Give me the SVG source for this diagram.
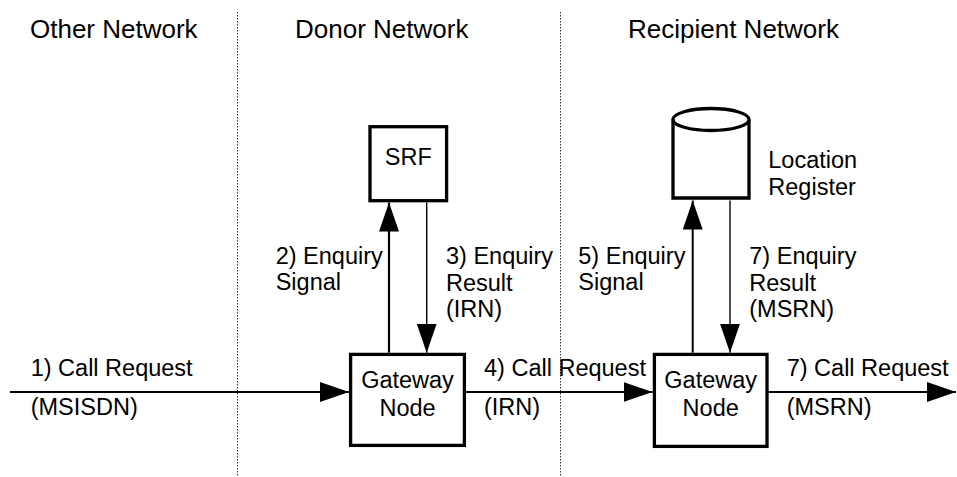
<svg xmlns="http://www.w3.org/2000/svg" width="957" height="477" viewBox="0 0 957 477">
<defs>
<marker id="ah" markerUnits="userSpaceOnUse" markerWidth="30" markerHeight="20" refX="29" refY="10" orient="auto" viewBox="0 0 30 20">
<path d="M0,0 L29,10 L0,20 Z" fill="#000"/>
</marker>
</defs>
<style>
text{font-family:"Liberation Sans",Arial,sans-serif;fill:#000}
.hdr{font-size:26px}
.lbl{font-size:23.5px}
.mid{text-anchor:middle}
.box{fill:#fff;stroke:#000;stroke-width:3.3}
.sep{stroke:#333;stroke-width:1;stroke-dasharray:1.5,1.5;fill:none}
.ln{stroke:#000;fill:none}
</style>
<rect width="957" height="477" fill="#fff"/>
<g id="separators">
<line class="sep" x1="237.5" y1="12" x2="237.5" y2="477"/>
<line class="sep" x1="560.5" y1="12" x2="560.5" y2="477"/>
</g>
<g id="headers">
<text class="hdr" x="30" y="38">Other Network</text>
<text class="hdr" x="295" y="37.5">Donor Network</text>
<text class="hdr" x="628" y="38">Recipient Network</text>
</g>
<g id="connectors">
<line class="ln" x1="10" y1="392" x2="349" y2="392" stroke-width="2" marker-end="url(#ah)"/>
<line class="ln" x1="466" y1="392" x2="652.5" y2="392" stroke-width="2" marker-end="url(#ah)"/>
<line class="ln" x1="768.5" y1="392" x2="956" y2="392" stroke-width="2" marker-end="url(#ah)"/>
<line class="ln" x1="389" y1="352.7" x2="389" y2="202.5" stroke-width="2.2" marker-end="url(#ah)"/>
<line class="ln" x1="426.7" y1="202.5" x2="426.7" y2="352.7" stroke-width="1.4" marker-end="url(#ah)"/>
<line class="ln" x1="692.7" y1="352.7" x2="692.7" y2="200.5" stroke-width="2" marker-end="url(#ah)"/>
<line class="ln" x1="730" y1="200.5" x2="730" y2="352.7" stroke-width="1.4" marker-end="url(#ah)"/>
<text class="lbl" x="30.7" y="376">1) Call Request</text>
<text class="lbl" x="30.7" y="415">(MSISDN)</text>
<text class="lbl" x="484" y="376">4) Call Request</text>
<text class="lbl" x="484" y="415">(IRN)</text>
<text class="lbl" x="786.7" y="376">7) Call Request</text>
<text class="lbl" x="786.7" y="415">(MSRN)</text>
<text class="lbl" x="275.7" y="263.5">2) Enquiry</text>
<text class="lbl" x="275.7" y="290">Signal</text>
<text class="lbl" x="446" y="263.5">3) Enquiry</text>
<text class="lbl" x="446" y="290.5">Result</text>
<text class="lbl" x="446" y="317">(IRN)</text>
<text class="lbl" x="578.3" y="263.5">5) Enquiry</text>
<text class="lbl" x="578.3" y="290">Signal</text>
<text class="lbl" x="749.3" y="263.5">7) Enquiry</text>
<text class="lbl" x="749.3" y="290.5">Result</text>
<text class="lbl" x="749.3" y="317">(MSRN)</text>
</g>
<g id="srf">
<rect class="box" x="370" y="126.7" width="76.6" height="74"/>
<text class="lbl mid" x="408.3" y="165">SRF</text>
</g>
<g id="location-register">
<path class="box" d="M673,119.5 L673,198 L749,198 L749,119.5"/>
<ellipse class="box" cx="711" cy="119.5" rx="38" ry="11"/>
<text class="lbl" x="768.3" y="168.3">Location</text>
<text class="lbl" x="768.3" y="194.5">Register</text>
</g>
<g id="gateway-donor">
<rect class="box" x="350.6" y="354.4" width="113.8" height="91"/>
<text class="lbl mid" x="407.5" y="388.3">Gateway</text>
<text class="lbl mid" x="407.5" y="416">Node</text>
</g>
<g id="gateway-recipient">
<rect class="box" x="654.4" y="354.4" width="112.6" height="92"/>
<text class="lbl mid" x="710.7" y="388.3">Gateway</text>
<text class="lbl mid" x="710.7" y="416">Node</text>
</g>
</svg>
